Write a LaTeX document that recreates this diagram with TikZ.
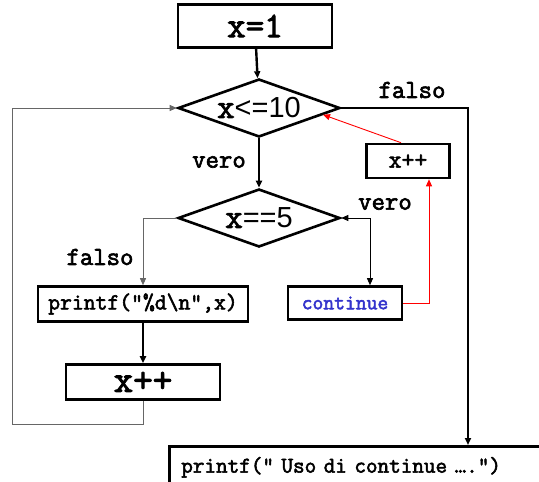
\documentclass[tikz,border=0pt]{standalone}
\usepackage{fontspec}
\setsansfont{Liberation Sans}
\setmonofont{Latin Modern Mono}[AutoFakeBold=2.5]
\usetikzlibrary{shapes.geometric,arrows.meta}
\definecolor{kwblue}{RGB}{51,51,204}

\tikzset{
  >={Triangle[length=7pt,width=6pt]},
  block/.style={draw,line width=2.6pt,minimum height=#1,inner sep=0pt,font=\ttfamily\bfseries},
  block/.default=34pt,
  cond/.style={draw,diamond,line width=2.6pt,minimum width=162pt,minimum height=58pt,
    aspect=2.8,inner sep=0pt},
  flow/.style={->,line width=2.4pt},
  thin/.style={->,line width=0.9pt},
  lbl/.style={font=\ttfamily\bfseries\fontsize{26}{26}\selectfont}
}

\begin{document}
\begin{tikzpicture}[x=1pt,y=-1pt]
  \useasboundingbox (0,0) rectangle (539,482);
  \clip (0,0) rectangle (539,482);

  % blocchi
  \node[block=43pt,minimum width=154pt,font=\ttfamily\bfseries\fontsize{36}{36}\selectfont] (init) at (255,26) {x=1};
  \node[cond] (test) at (259,108) {{\ttfamily\bfseries\fontsize{34}{34}\selectfont x}{\sffamily\fontsize{29}{29}\selectfont <=10}};
  \node[cond] (five) at (259,218) {{\ttfamily\bfseries\fontsize{34}{34}\selectfont x}{\sffamily\fontsize{29}{29}\selectfont ==5}};
  \node[block,minimum width=83pt,font=\ttfamily\bfseries\fontsize{25}{25}\selectfont] (skip) at (408,161) {x++};
  \node[block=33pt,minimum width=114pt,font=\ttfamily\bfseries\fontsize{21}{21}\selectfont,text=kwblue] (cont) at (345,303) {continue};
  \node[block=35pt,minimum width=210pt,font=\ttfamily\bfseries\fontsize{23}{23}\selectfont] (show) at (143,304) {printf("\%d\textbackslash n",x)};
  \node[block=35pt,minimum width=154pt,font=\ttfamily\bfseries\fontsize{38}{38}\selectfont] (incr) at (143,382) {x++};
  \node[block=42pt,anchor=north west,text width=366pt,inner xsep=12pt,align=left,
    font=\ttfamily\bfseries\fontsize{22.5}{22.5}\selectfont] (done) at (168,445) {printf(” Uso di continue ….”)};

  \coordinate (back) at (12,424);
  \coordinate (exit) at (468,445);

  % etichette
  \node[lbl] (lf1) at (412,90) {falso};
  \node[lbl] (lv1) at (219,162) {vero};
  \node[lbl] (lv2) at (385,204) {vero};
  \node[lbl] (lf2) at (100,257) {falso};

  % frecce
  \draw[flow] (init) -- (test);
  \draw[flow] (test) -- (five);
  \draw[flow] (show) -- (incr);
  \draw[flow] (test.east) -| (exit);
  \draw[thin,gray!80!black] (five.west) -| (show.north);
  \draw[thin,<->] (five.east) -| ([xshift=25pt]cont.north);
  \draw[thin,gray!80!black] (incr.south) |- (back) |- (test.west);
  \draw[thin,red] (cont.east) -| ([xshift=21pt]skip.south);
  \draw[thin,red] ([xshift=-7pt]skip.north) -- (test.-6);
\end{tikzpicture}
\end{document}
